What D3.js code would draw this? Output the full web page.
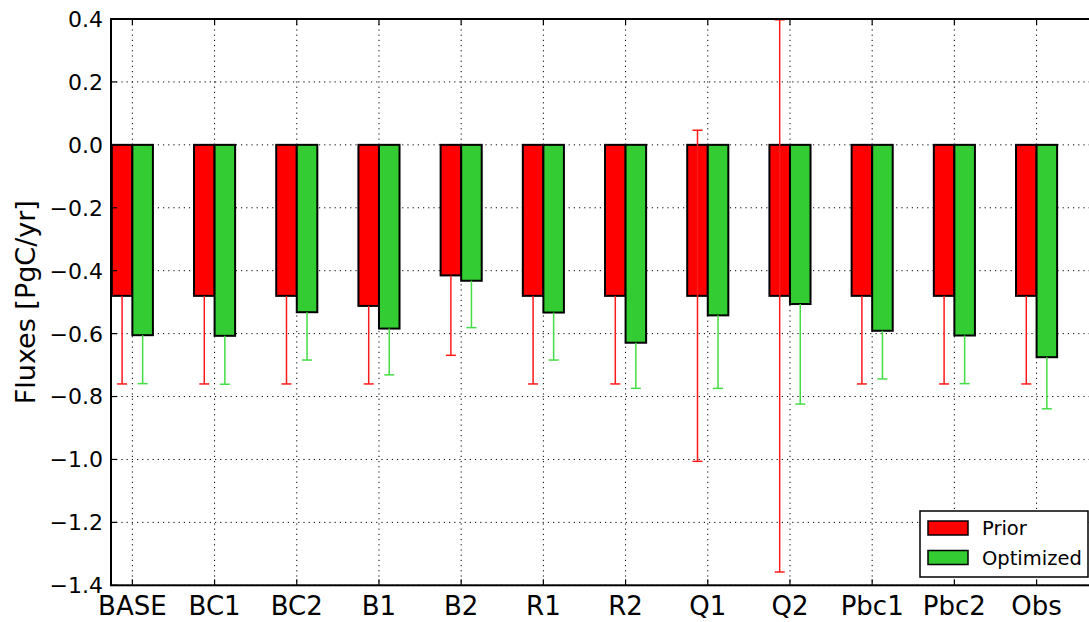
<!DOCTYPE html>
<html>
<head>
<meta charset="utf-8">
<script src="https://cdn.jsdelivr.net/npm/d3@7"></script>
<style>
  html, body { margin: 0; padding: 0; background: #ffffff; }
  svg { display: block; }
  text { font-family: "DejaVu Sans", sans-serif; fill: #000; }
</style>
</head>
<body>
<svg id="chart" width="1089" height="622"></svg>
<script>
// Experiment names along the x axis
const categories = ["BASE", "BC1", "BC2", "B1", "B2", "R1", "R2", "Q1", "Q2", "Pbc1", "Pbc2", "Obs"];
// Prior flux and its uncertainty (PgC/yr)
const prior    = [-0.48, -0.48, -0.48, -0.512, -0.415, -0.48, -0.48, -0.48, -0.48, -0.48, -0.48, -0.48];
const priorErr = [0.28, 0.28, 0.28, 0.248, 0.254, 0.28, 0.28, 0.526, 0.878, 0.28, 0.28, 0.28];
// Optimized flux and its uncertainty (PgC/yr)
const optimized = [-0.605, -0.607, -0.532, -0.584, -0.432, -0.533, -0.629, -0.542, -0.506, -0.591, -0.606, -0.675];
const optErr    = [0.154, 0.154, 0.152, 0.147, 0.149, 0.151, 0.145, 0.232, 0.318, 0.153, 0.153, 0.164];
// Axis ticks
const yTicks = [0.4, 0.2, 0.0, -0.2, -0.4, -0.6, -0.8, -1.0, -1.2, -1.4];
const seriesNames = ["Prior", "Optimized"];

const colors = { Prior: "#ff0000", Optimized: "#33cc33" };
const errColors = { Prior: "#ff1a1a", Optimized: "#44dd44" };
const barW = 0.25;

const svg = d3.select("#chart");
const plot = { left: 111, top: 19, bottom: 585.3 };

// category index -> pixel; plot extends slightly past the right edge of the canvas
const x = d3.scaleLinear().domain([-0.26, 11.74]).range([plot.left, plot.left + 12 * 82.2]);
const y = d3.scaleLinear().domain([-1.4, 0.4]).range([plot.bottom, plot.top]);
const plotRight = x(11.74);

svg.append("defs").append("clipPath").attr("id", "clip")
  .append("rect").attr("x", plot.left).attr("y", plot.top)
  .attr("width", plotRight - plot.left).attr("height", plot.bottom - plot.top);

const fmt = v => (Math.abs(v) < 1e-9 ? "0.0" : d3.format(".1f")(v).replace("-", "\u2212"));

// dotted grid
const grid = svg.append("g").attr("clip-path", "url(#clip)");
grid.selectAll("line.gy").data(yTicks).join("line")
  .attr("x1", plot.left).attr("x2", plotRight)
  .attr("y1", d => y(d)).attr("y2", d => y(d))
  .attr("stroke", "#000").attr("stroke-width", 1).attr("stroke-dasharray", "1.2,4");
grid.selectAll("line.gx").data(categories).join("line")
  .attr("x1", (d, i) => x(i)).attr("x2", (d, i) => x(i))
  .attr("y1", plot.top).attr("y2", plot.bottom)
  .attr("stroke", "#000").attr("stroke-width", 1).attr("stroke-dasharray", "1.2,4");

// bars + error bars
const series = [
  { name: "Prior", vals: prior, errs: priorErr, off: -barW },
  { name: "Optimized", vals: optimized, errs: optErr, off: 0 }
];
const marks = svg.append("g").attr("clip-path", "url(#clip)");
series.forEach(s => {
  const g = marks.append("g");
  g.selectAll("rect").data(s.vals).join("rect")
    .attr("x", (d, i) => x(i + s.off))
    .attr("width", (d, i) => x(i + s.off + barW) - x(i + s.off))
    .attr("y", d => Math.min(y(d), y(0)))
    .attr("height", d => Math.abs(y(d) - y(0)))
    .attr("fill", colors[s.name])
    .attr("stroke", "#000").attr("stroke-width", 2);
});
series.forEach(s => {
  const g = marks.append("g");
  const cx = i => x(i + s.off + barW / 2);
  s.vals.forEach((v, i) => {
    const lo = v - s.errs[i], hi = v + s.errs[i];
    // the part inside the bar blends with the fill; draw from bar end outward
    g.append("line").attr("x1", cx(i)).attr("x2", cx(i))
      .attr("y1", y(lo)).attr("y2", y(hi) < y(0) ? y(hi) : y(v))
      .attr("stroke", errColors[s.name]).attr("stroke-width", 1.5);
    [lo, hi].filter(e => e > 0 || e < v).forEach(e => {
      g.append("line").attr("x1", cx(i) - 5).attr("x2", cx(i) + 5)
        .attr("y1", y(e)).attr("y2", y(e))
        .attr("stroke", errColors[s.name]).attr("stroke-width", 1.5);
    });
  });
});

// spines
const frame = svg.append("g").attr("stroke", "#000").attr("stroke-width", 2).attr("fill", "none");
frame.append("rect").attr("x", plot.left).attr("y", plot.top)
  .attr("width", plotRight - plot.left).attr("height", plot.bottom - plot.top);

// inward ticks
const ticks = svg.append("g").attr("stroke", "#000").attr("stroke-width", 1.2);
yTicks.forEach(t => {
  ticks.append("line").attr("x1", plot.left).attr("x2", plot.left + 6).attr("y1", y(t)).attr("y2", y(t));
});
categories.forEach((c, i) => {
  ticks.append("line").attr("x1", x(i)).attr("x2", x(i)).attr("y1", plot.bottom).attr("y2", plot.bottom - 6);
  ticks.append("line").attr("x1", x(i)).attr("x2", x(i)).attr("y1", plot.top).attr("y2", plot.top + 6);
});

// y tick labels
svg.append("g").selectAll("text").data(yTicks).join("text")
  .attr("x", plot.left - 8).attr("y", d => y(d)).attr("dy", "0.36em")
  .attr("text-anchor", "end").style("font-size", "22px")
  .text(fmt);

// x tick labels
svg.append("g").selectAll("text").data(categories).join("text")
  .attr("x", (d, i) => x(i)).attr("y", 615)
  .attr("text-anchor", "middle").style("font-size", "26px")
  .text(d => d);

// y axis title
svg.append("text")
  .attr("transform", `translate(35,${(plot.top + plot.bottom) / 2}) rotate(-90)`)
  .attr("text-anchor", "middle").style("font-size", "27px")
  .text("Fluxes [PgC/yr]");

// legend
const leg = svg.append("g");
leg.append("rect").attr("x", 920).attr("y", 511).attr("width", 168).attr("height", 66)
  .attr("fill", "#fff").attr("stroke", "#000").attr("stroke-width", 1.5);
seriesNames.forEach((n, k) => {
  const yy = 521 + k * 29.5;
  leg.append("rect").attr("x", 928).attr("y", yy).attr("width", 40).attr("height", 14)
    .attr("fill", colors[n]).attr("stroke", "#000").attr("stroke-width", 1.5);
  leg.append("text").attr("x", 982).attr("y", yy + 14).style("font-size", "19.5px").text(n);
});
</script>
</body>
</html>
